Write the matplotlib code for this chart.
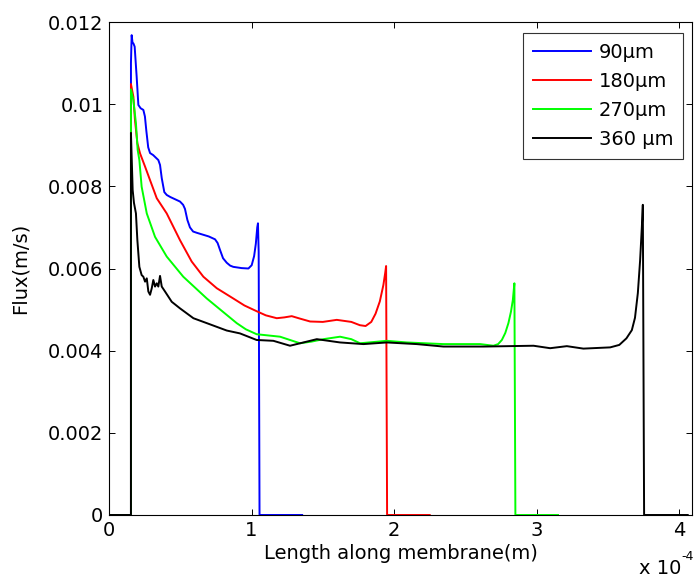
import matplotlib
matplotlib.use("Agg")
import matplotlib.pyplot as plt
import numpy as np

# x values in units of 1e-4 m, flux in m/s
x90 = [0, 0.154, 0.154, 0.159, 0.165, 0.171, 0.180, 0.194, 0.206, 0.222, 0.241, 0.252, 0.262,
       0.275, 0.288, 0.310, 0.346, 0.358, 0.370, 0.388, 0.405, 0.430, 0.498, 0.520, 0.533,
       0.550, 0.568, 0.590, 0.615, 0.700, 0.744, 0.762, 0.779, 0.800, 0.826, 0.850, 0.872,
       0.930, 0.978, 1.001, 1.018, 1.030, 1.040, 1.045, 1.050, 1.056, 1.056, 1.355]
y90 = [0, 0, 0.0110, 0.01168, 0.01150, 0.01148, 0.0114, 0.01067, 0.00998, 0.00990, 0.00986,
       0.00970, 0.00935, 0.00895, 0.00881, 0.00876, 0.00864, 0.00852, 0.0082, 0.00786,
       0.00779, 0.00774, 0.00763, 0.00755, 0.00745, 0.00718, 0.00700, 0.00690, 0.00687,
       0.00678, 0.00671, 0.00662, 0.00645, 0.00625, 0.00614, 0.00607, 0.00604, 0.00601,
       0.0060, 0.00608, 0.00630, 0.00660, 0.00700, 0.0071, 0.0064, 0.0, 0, 0]

x180 = [0, 0.154, 0.154, 0.171, 0.182, 0.199, 0.218, 0.253, 0.288, 0.335, 0.405, 0.498, 0.580,
        0.662, 0.756, 0.872, 0.950, 1.036, 1.100, 1.177, 1.230, 1.282, 1.340, 1.411, 1.500,
        1.598, 1.700, 1.760, 1.800, 1.840, 1.870, 1.900, 1.925, 1.938, 1.944, 1.951, 1.951,
        2.25]
y180 = [0, 0, 0.01049, 0.01018, 0.00962, 0.00905, 0.0088, 0.00848, 0.00815, 0.00771, 0.00734,
        0.00669, 0.00617, 0.0058, 0.00552, 0.00527, 0.00510, 0.00496, 0.00486, 0.00479,
        0.00481, 0.00484, 0.00478, 0.00471, 0.00470, 0.00475, 0.00470, 0.00462, 0.00460,
        0.00470, 0.00490, 0.00520, 0.00560, 0.00590, 0.00606, 0.0, 0, 0]

x270 = [0, 0.154, 0.154, 0.171, 0.189, 0.201, 0.213, 0.229, 0.265, 0.323, 0.405, 0.521, 0.686,
        0.896, 0.960, 1.036, 1.2, 1.340, 1.420, 1.504, 1.621, 1.700, 1.761, 1.949, 2.089,
        2.346, 2.604, 2.697, 2.730, 2.756, 2.780, 2.802, 2.820, 2.833, 2.844, 2.851, 2.851,
        3.15]
y270 = [0, 0, 0.01036, 0.0101, 0.00953, 0.00889, 0.00864, 0.00799, 0.00734, 0.00677, 0.00629,
        0.0058, 0.00527, 0.00467, 0.00452, 0.0044, 0.00434, 0.00418, 0.00422, 0.00428,
        0.00434, 0.00428, 0.00418, 0.00424, 0.0042, 0.00416, 0.00416, 0.00412, 0.00416,
        0.00426, 0.00443, 0.00467, 0.00495, 0.00523, 0.00564, 0.0, 0, 0]

x360 = [0, 0.154, 0.154, 0.166, 0.175, 0.189, 0.199, 0.213, 0.229, 0.241, 0.253, 0.265, 0.276,
        0.288, 0.300, 0.311, 0.323, 0.335, 0.346, 0.358, 0.370, 0.393, 0.440, 0.498, 0.592,
        0.686, 0.826, 0.919, 1.036, 1.153, 1.270, 1.458, 1.621, 1.785, 1.949, 2.159, 2.346,
        2.627, 2.978, 3.095, 3.212, 3.328, 3.516, 3.580, 3.630, 3.668, 3.690, 3.710, 3.726,
        3.738, 3.745, 3.754, 3.754, 4.06]
y360 = [0, 0, 0.0093, 0.00791, 0.00760, 0.00734, 0.00669, 0.00604, 0.00584, 0.0058, 0.00568,
        0.00576, 0.00544, 0.00536, 0.00552, 0.00572, 0.00556, 0.00564, 0.00556, 0.00582,
        0.00556, 0.00544, 0.00519, 0.00503, 0.00479, 0.00467, 0.00449, 0.00442, 0.00426,
        0.00424, 0.00412, 0.00428, 0.0042, 0.00416, 0.0042, 0.00416, 0.0041, 0.0041,
        0.00412, 0.00406, 0.00411, 0.00405, 0.00408, 0.00414, 0.00430, 0.0045, 0.00480,
        0.00540, 0.00620, 0.00700, 0.00755, 0.0, 0, 0]

labels = ['90\u03bcm', '180\u03bcm', '270\u03bcm', '360 \u03bcm']
colors = ['#0000ff', '#ff0000', '#00ff00', '#000000']

plt.rcParams['font.family'] = ['DejaVu Sans']
fs = 14

fig = plt.figure(figsize=(6.95, 5.79), dpi=100)
ax = fig.add_axes([109/695, 64/579, 583/695, 493/579])

for xs, ys, lab, c in zip([x90, x180, x270, x360], [y90, y180, y270, y360], labels, colors):
    ax.plot(np.array(xs) * 1e-4, ys, color=c, lw=1.4, label=lab)

ax.set_xlim(0, 4.09e-4)
ax.set_ylim(0, 0.012)
ax.set_xticks([0, 1e-4, 2e-4, 3e-4, 4e-4])
ax.set_xticklabels(['0', '1', '2', '3', '4'])
ax.set_yticks([0, 0.002, 0.004, 0.006, 0.008, 0.01, 0.012])
ax.set_yticklabels(['0', '0.002', '0.004', '0.006', '0.008', '0.01', '0.012'])
ax.tick_params(direction='in', length=4, width=0.7, top=True, right=True, labelsize=fs, pad=4)
for s in ax.spines.values():
    s.set_linewidth(0.8)

ax.set_xlabel('Length along membrane(m)', fontsize=fs, labelpad=3)
ax.set_ylabel('Flux(m/s)', fontsize=fs, labelpad=13)
fig.text(681/695, 1 - 568/579, 'x 10', fontsize=fs, ha='right', va='center')
fig.text(694/695, 1 - 557/579, '-4', fontsize=9, ha='right', va='center')

leg = ax.legend(loc='upper right', bbox_to_anchor=(1 - 9/583, 1 - 11/493), borderaxespad=0,
                fontsize=fs, handlelength=3.0, fancybox=False, framealpha=1,
                edgecolor='#333333', labelspacing=0.52, borderpad=0.5, handletextpad=0.4)
leg.get_frame().set_linewidth(0.8)

fig.savefig('out.png', dpi=100)
